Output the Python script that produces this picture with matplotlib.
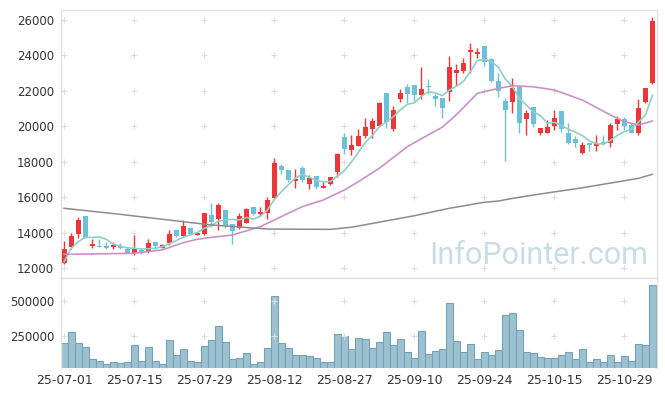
import numpy as np
import pandas as pd
import matplotlib
matplotlib.use("Agg")
import matplotlib.pyplot as plt

# trading days, 25-07-01 .. 25-11-04 (KRX calendar)
dates = pd.bdate_range("2025-07-01", "2025-11-04")
holidays = pd.to_datetime(["2025-08-15", "2025-10-03", "2025-10-06", "2025-10-07",
                           "2025-10-08", "2025-10-09"])
dates = dates[~dates.isin(holidays)]

opens = [12300, 13185, 13920, 14930, 13260, 13260, 13240, 13170, 13260, 13070,
         12860, 12990, 12880, 13470, 13150, 13390, 14145, 13820, 14275, 13860,
         13900, 14990, 14790, 15270, 14480, 14240, 14560, 15440, 15050, 15120,
         15970, 17760, 17530, 16930, 17645, 16740, 17190, 16515, 16740, 17440,
         19395, 18660, 18900, 19470, 19850, 20035, 21880, 19850, 21540, 22220,
         22330, 21780, 22250, 21710, 21580, 21950, 23030, 23140, 24210, 24100,
         24530, 23780, 22560, 21430, 21390, 22200, 20390, 21070, 19600, 19640,
         20030, 20860, 19600, 19260, 18510, 19040, 18900, 19090, 19070, 20140,
         20410, 20090, 19640, 21350, 22430]
highs = [13520, 13980, 14880, 14950, 13620, 13620, 13450, 13450, 13400, 13190,
         13860, 13130, 13620, 13480, 13330, 14130, 14150, 14710, 14290, 14000,
         15120, 15650, 15650, 15280, 14490, 15120, 15400, 15450, 15430, 16025,
         18190, 17870, 17540, 17570, 17760, 17250, 17200, 16870, 17160, 18510,
         19640, 19510, 19850, 20450, 20450, 21390, 21890, 21160, 22120, 22390,
         22340, 23330, 22690, 21820, 21590, 23970, 23500, 23870, 24680, 24400,
         24540, 23840, 22990, 21580, 22710, 22210, 20920, 21080, 19900, 20350,
         20920, 20870, 20170, 19450, 19130, 19050, 19490, 19490, 20200, 20580,
         20550, 20170, 21520, 22170, 26190]
lows = [12250, 13100, 13700, 13680, 13150, 13200, 13060, 13060, 13100, 12830,
        12730, 12790, 12830, 13060, 13110, 13300, 13730, 13800, 13870, 13840,
        13850, 14330, 14130, 14240, 13355, 14180, 14540, 15010, 14950, 14765,
        15950, 17290, 16870, 16500, 16840, 16440, 16480, 16500, 16700, 17120,
        18420, 18380, 18880, 19320, 19320, 20000, 19920, 19730, 21350, 21315,
        21400, 21540, 21820, 21160, 20485, 21430, 22330, 23030, 22990, 23840,
        23420, 22510, 21670, 18040, 20730, 19640, 19490, 19980, 19490, 19620,
        19790, 19700, 18980, 18850, 18420, 18600, 18620, 18970, 18850, 19790,
        19790, 19620, 19510, 21300, 22400]
closes = [13070, 13800, 14710, 13700, 13350, 13210, 13130, 13320, 13150, 12860,
          13110, 12900, 13410, 13260, 13320, 13920, 13820, 14390, 13900, 13990,
          15100, 14610, 15555, 14350, 14110, 14935, 15330, 15030, 15180, 15840,
          17930, 17530, 16985, 17040, 16970, 17100, 16590, 16630, 17120, 18435,
          18720, 18940, 19450, 19940, 20300, 21315, 20240, 20920, 21880, 21820,
          21770, 22080, 22220, 21540, 21050, 23330, 23180, 23570, 24300, 24190,
          23610, 22570, 22010, 20920, 22140, 20170, 20730, 20110, 19880, 19940,
          20450, 19830, 19070, 19070, 18940, 18960, 19040, 18980, 20070, 20410,
          20010, 19640, 21010, 22140, 25940]
volumes = [201000, 279000, 201000, 172000, 85000, 70000, 49000, 61000, 56000, 63000,
           184000, 70000, 172000, 70000, 49000, 221000, 114000, 158000, 75000, 61000,
           177000, 223000, 323000, 206000, 83000, 90000, 126000, 53000, 68000, 163000,
           534000, 199000, 163000, 112000, 112000, 104000, 90000, 61000, 61000, 265000,
           250000, 155000, 235000, 228000, 163000, 206000, 279000, 184000, 228000, 133000,
           90000, 286000, 124000, 141000, 155000, 483000, 214000, 133000, 192000, 83000,
           133000, 112000, 148000, 396000, 410000, 294000, 133000, 126000, 97000, 90000,
           90000, 112000, 133000, 83000, 155000, 68000, 83000, 68000, 112000, 68000,
           104000, 75000, 192000, 184000, 607000]

# moving averages (20 and 120 need history before 25-07-01)
ma5_head = [12360, 13110, 13485, 13730]
ma20_idx = [0, 10, 14, 17, 19, 21, 24, 28, 31, 34, 37, 40, 42, 45, 49, 51, 54, 56, 57,
            59, 62, 64, 67, 70, 74, 78, 80, 82, 84]
ma20_val = [12770, 12830, 13020, 13430, 13620, 13730, 13860, 14330, 14900, 15460,
            15840, 16400, 16870, 17630, 18850, 19300, 19950, 20650, 21050,
            21860, 22140, 22290, 22230, 22050, 21480, 20640, 20260, 20070, 20300]
ma120_idx = [0, 8, 19, 21, 29, 38, 41, 42, 50, 55, 60, 62, 64, 67, 74, 82, 84]
ma120_val = [15370, 15030, 14520, 14430, 14200, 14180, 14300, 14370, 14950, 15370,
             15710, 15780, 15930, 16120, 16530, 17060, 17290]

UP, DOWN = "#ee3538", "#6cc0d8"

x = np.arange(len(dates))
o, h, l, c = map(np.array, (opens, highs, lows, closes))
up = c >= o
colors = np.where(up, UP, DOWN)

ma5 = pd.Series(closes).rolling(5).mean().to_numpy()
ma5[:4] = ma5_head

fig = plt.figure(figsize=(6.65, 3.96), dpi=100)
ax = fig.add_axes([61 / 665, 1 - 278 / 396, 596 / 665, 268 / 396])
axv = fig.add_axes([61 / 665, 1 - 368 / 396, 596 / 665, 90 / 396], sharex=ax)

# watermark
ax.text(0.985, 0.03, "InfoPointer.com", transform=ax.transAxes, ha="right", va="bottom",
        fontsize=22, color="#c9dde7", family="Roboto", zorder=0)

# candles
ax.vlines(x, l, h, colors=colors, linewidth=1.0, zorder=2)
body = np.maximum(np.abs(c - o), 40)
ax.bar(x, body, bottom=np.minimum(o, c), width=0.72, color=colors, linewidth=0, zorder=3)

ax.plot(x, ma5, color="#8fcfc6", linewidth=1.2, zorder=4)
ax.plot(ma20_idx, ma20_val, color="#c992c4", linewidth=1.2, zorder=4)
ax.plot(ma120_idx, ma120_val, color="#8c8c8c", linewidth=1.1, zorder=4)

# volume
axv.bar(x, volumes, width=1.0, color="#9dc1d1", edgecolor="#76a2b6", linewidth=0.8)

ax.set_xlim(-0.45, 84.65)
ax.set_ylim(11435, 26565)
axv.set_ylim(22000, 660000)

pticks = np.arange(12000, 26001, 2000)
vticks = [250000, 500000]
xt = x[::10]

ax.set_yticks(pticks)
ax.set_yticklabels([str(v) for v in pticks])
axv.set_yticks(vticks)
axv.set_yticklabels([str(v) for v in vticks])
axv.set_xticks(xt)
axv.set_xticklabels([d.strftime("%y-%m-%d") for d in dates[xt]])
ax.tick_params(labelbottom=False)

# "+" markers at grid crossings
gx, gy = np.meshgrid(xt, pticks)
ax.scatter(gx.ravel(), gy.ravel(), marker="+", s=14, color="#dddddd", linewidth=0.8, zorder=1)
gx, gy = np.meshgrid(xt, vticks)
axv.scatter(gx.ravel(), gy.ravel(), marker="+", s=14, color="#dddddd", linewidth=0.8, zorder=3)

for a in (ax, axv):
    a.tick_params(length=0, labelsize=8.5, labelcolor="#333333", pad=5)
    for s in a.spines.values():
        s.set_color("#e3e3e3")
        s.set_linewidth(1.0)
axv.spines["bottom"].set_visible(False)
axv.tick_params(axis="x", labelsize=9, pad=4)

fig.savefig("out.png", dpi=100)
